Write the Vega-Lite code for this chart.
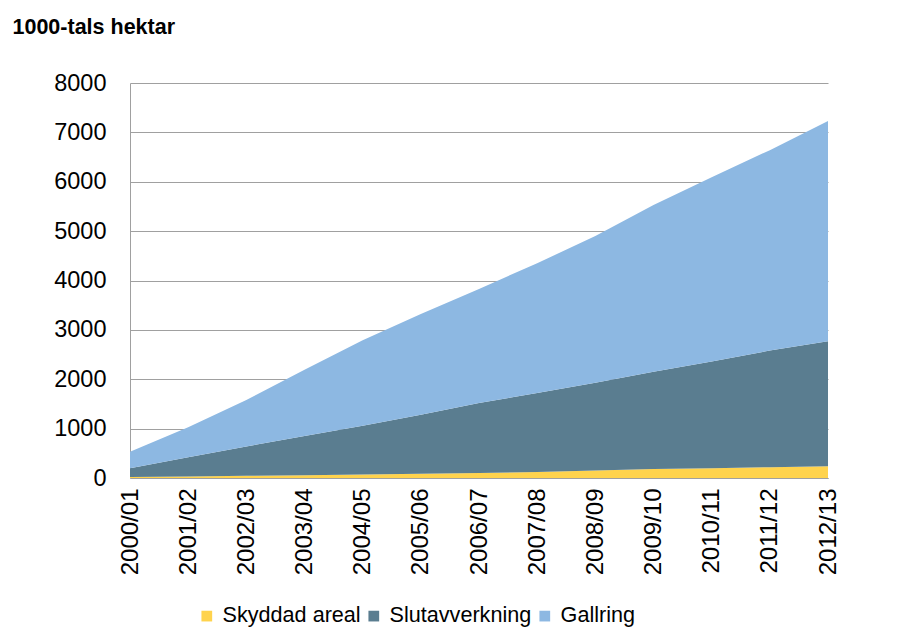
{
  "$schema": "https://vega.github.io/schema/vega-lite/v6.json",
  "width": 698,
  "height": 395,
  "autosize": {"type": "none"},
  "padding": {"left": 130, "top": 83, "right": 72, "bottom": 162},
  "background": "white",
  "config": {
    "font": "Liberation Sans",
    "view": {"stroke": null}
  },
  "data": {
    "values": [
      {"year": "2000/01", "serie": "Skyddad areal", "ord": 1, "v": 20},
      {"year": "2001/02", "serie": "Skyddad areal", "ord": 1, "v": 30},
      {"year": "2002/03", "serie": "Skyddad areal", "ord": 1, "v": 45},
      {"year": "2003/04", "serie": "Skyddad areal", "ord": 1, "v": 55},
      {"year": "2004/05", "serie": "Skyddad areal", "ord": 1, "v": 70},
      {"year": "2005/06", "serie": "Skyddad areal", "ord": 1, "v": 85},
      {"year": "2006/07", "serie": "Skyddad areal", "ord": 1, "v": 100},
      {"year": "2007/08", "serie": "Skyddad areal", "ord": 1, "v": 120},
      {"year": "2008/09", "serie": "Skyddad areal", "ord": 1, "v": 150},
      {"year": "2009/10", "serie": "Skyddad areal", "ord": 1, "v": 180},
      {"year": "2010/11", "serie": "Skyddad areal", "ord": 1, "v": 200},
      {"year": "2011/12", "serie": "Skyddad areal", "ord": 1, "v": 220},
      {"year": "2012/13", "serie": "Skyddad areal", "ord": 1, "v": 240},
      {"year": "2000/01", "serie": "Slutavverkning", "ord": 2, "v": 180},
      {"year": "2001/02", "serie": "Slutavverkning", "ord": 2, "v": 390},
      {"year": "2002/03", "serie": "Slutavverkning", "ord": 2, "v": 595},
      {"year": "2003/04", "serie": "Slutavverkning", "ord": 2, "v": 795},
      {"year": "2004/05", "serie": "Slutavverkning", "ord": 2, "v": 990},
      {"year": "2005/06", "serie": "Slutavverkning", "ord": 2, "v": 1195},
      {"year": "2006/07", "serie": "Slutavverkning", "ord": 2, "v": 1420},
      {"year": "2007/08", "serie": "Slutavverkning", "ord": 2, "v": 1600},
      {"year": "2008/09", "serie": "Slutavverkning", "ord": 2, "v": 1780},
      {"year": "2009/10", "serie": "Slutavverkning", "ord": 2, "v": 1970},
      {"year": "2010/11", "serie": "Slutavverkning", "ord": 2, "v": 2160},
      {"year": "2011/12", "serie": "Slutavverkning", "ord": 2, "v": 2360},
      {"year": "2012/13", "serie": "Slutavverkning", "ord": 2, "v": 2530},
      {"year": "2000/01", "serie": "Gallring", "ord": 3, "v": 330},
      {"year": "2001/02", "serie": "Gallring", "ord": 3, "v": 610},
      {"year": "2002/03", "serie": "Gallring", "ord": 3, "v": 940},
      {"year": "2003/04", "serie": "Gallring", "ord": 3, "v": 1340},
      {"year": "2004/05", "serie": "Gallring", "ord": 3, "v": 1730},
      {"year": "2005/06", "serie": "Gallring", "ord": 3, "v": 2040},
      {"year": "2006/07", "serie": "Gallring", "ord": 3, "v": 2310},
      {"year": "2007/08", "serie": "Gallring", "ord": 3, "v": 2630},
      {"year": "2008/09", "serie": "Gallring", "ord": 3, "v": 2970},
      {"year": "2009/10", "serie": "Gallring", "ord": 3, "v": 3380},
      {"year": "2010/11", "serie": "Gallring", "ord": 3, "v": 3730},
      {"year": "2011/12", "serie": "Gallring", "ord": 3, "v": 4060},
      {"year": "2012/13", "serie": "Gallring", "ord": 3, "v": 4460}
    ]
  },
  "mark": {"type": "area", "opacity": 1},
  "encoding": {
    "x": {
      "field": "year",
      "type": "ordinal",
      "scale": {"type": "point", "padding": 0},
      "axis": {
        "title": null,
        "labelAngle": -90,
        "labelFontSize": 24,
        "labelColor": "#000000",
        "labelPadding": 10,
        "ticks": false,
        "domain": true,
        "domainColor": "#a0a0a0",
        "grid": false
      }
    },
    "y": {
      "field": "v",
      "type": "quantitative",
      "stack": "zero",
      "scale": {"domain": [0, 8000], "nice": false},
      "axis": {
        "values": [0, 1000, 2000, 3000, 4000, 5000, 6000, 7000, 8000],
        "format": "d",
        "labelFontSize": 23.5,
        "labelColor": "#000000",
        "labelPadding": 24,
        "ticks": false,
        "domain": true,
        "domainColor": "#a0a0a0",
        "gridColor": "#a0a0a0",
        "gridWidth": 1,
        "title": "1000-tals hektar",
        "titleAngle": 0,
        "titleAlign": "left",
        "titleBaseline": "middle",
        "titleX": -118,
        "titleY": -56,
        "titleFontSize": 21.5,
        "titleFontWeight": "bold",
        "titleColor": "#000000"
      }
    },
    "color": {
      "field": "serie",
      "type": "nominal",
      "scale": {
        "domain": ["Skyddad areal", "Slutavverkning", "Gallring"],
        "range": ["#FFD34D", "#5A7D90", "#8DB8E2"]
      },
      "legend": {
        "title": null,
        "orient": "none",
        "direction": "horizontal",
        "legendX": 66,
        "legendY": 522,
        "symbolType": "square",
        "symbolSize": 115,
        "symbolStrokeWidth": 0,
        "labelFontSize": 21.6,
        "labelColor": "#000000",
        "labelOffset": 5,
        "columnPadding": 2
      }
    },
    "order": {"field": "ord", "type": "quantitative"}
  }
}
